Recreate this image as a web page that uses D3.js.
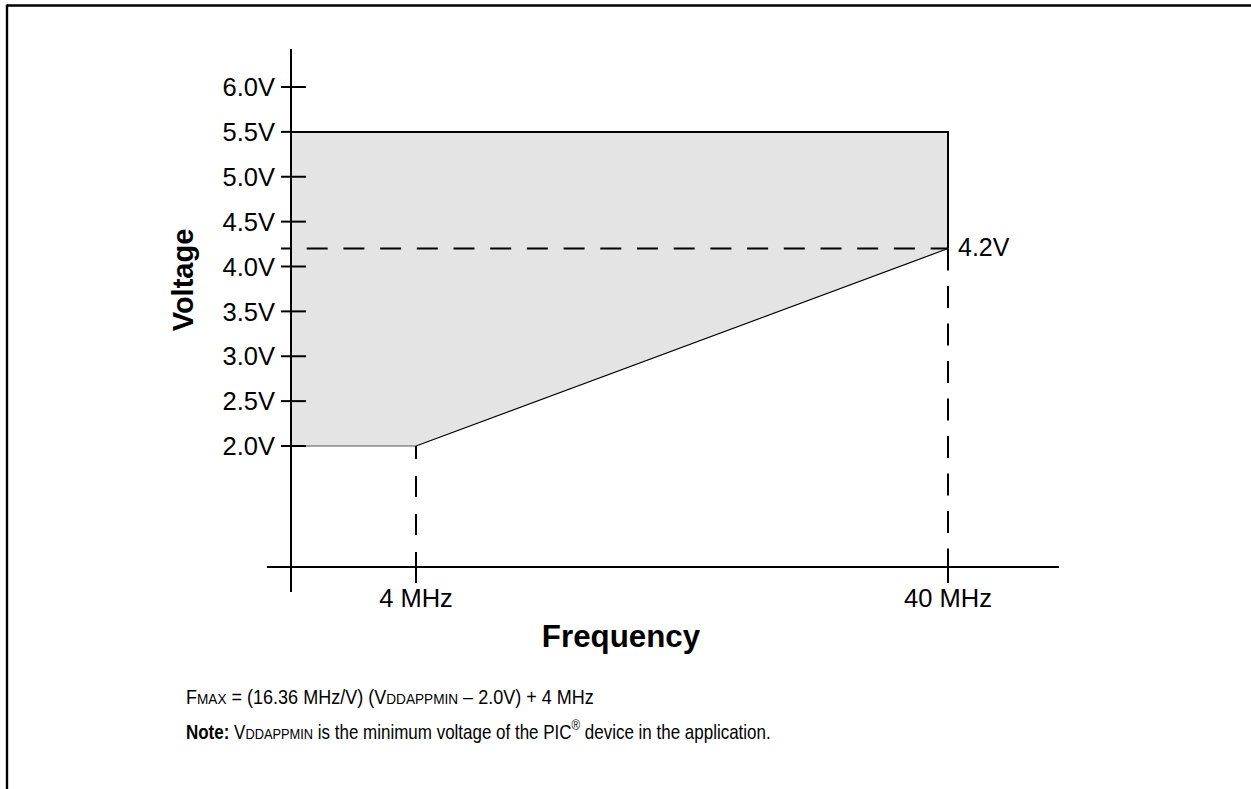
<!DOCTYPE html>
<html>
<head>
<meta charset="utf-8">
<script src="https://cdn.jsdelivr.net/npm/d3@7"></script>
<style>
  html, body { margin: 0; padding: 0; background: #fff; }
  svg { display: block; }
  text { font-family: "Liberation Sans", Arial, sans-serif; fill: #000; }
</style>
</head>
<body>
<svg id="chart" width="1251" height="789"></svg>
<script>
// ---- data ----
const yTickValues = [2.0, 2.5, 3.0, 3.5, 4.0, 4.5, 5.0, 5.5, 6.0];
const yTickLabels = ["2.0V", "2.5V", "3.0V", "3.5V", "4.0V", "4.5V", "5.0V", "5.5V", "6.0V"];
const xTickValues = [4, 40];
const xTickLabels = ["4 MHz", "40 MHz"];
const boundaryFreq = [4, 40];      // MHz
const boundaryVolt = [2.0, 4.2];   // V
const maxVolt = 5.5;
const markerVolt = 4.2;
const markerLabel = "4.2V";
const yTitle = "Voltage";
const xTitle = "Frequency";

// ---- layout ----
const svg = d3.select("#chart");
const axisX = 291, axisTop = 49, axisBottom = 592;
const xAxisY = 567, xAxisLeft = 267, xAxisRight = 1059;

const y = d3.scaleLinear().domain([2.0, 6.0]).range([446, 87]);
const x = d3.scaleLinear().domain([4, 40]).range([416, 948]);

// frame
svg.append("line").attr("x1", 7).attr("x2", 1251).attr("y1", 5.5).attr("y2", 5.5)
  .attr("stroke", "#000").attr("stroke-width", 2.4);
svg.append("line").attr("x1", 7).attr("x2", 7).attr("y1", 4.5).attr("y2", 789)
  .attr("stroke", "#000").attr("stroke-width", 2.4);

// shaded region
const poly = [
  [axisX, y(maxVolt)],
  [x(boundaryFreq[1]), y(maxVolt)],
  [x(boundaryFreq[1]), y(boundaryVolt[1])],
  [x(boundaryFreq[0]), y(boundaryVolt[0])],
  [axisX, y(boundaryVolt[0])]
];
svg.append("polygon").attr("points", poly.map(p => p.join(",")).join(" "))
  .attr("fill", "#e4e4e4").attr("stroke", "none");

// region edges
svg.append("line").attr("x1", axisX).attr("x2", x(boundaryFreq[1]))
  .attr("y1", y(maxVolt)).attr("y2", y(maxVolt)).attr("stroke", "#000").attr("stroke-width", 2);
svg.append("line").attr("x1", x(boundaryFreq[1])).attr("x2", x(boundaryFreq[1]))
  .attr("y1", y(maxVolt) - 1).attr("y2", y(boundaryVolt[1])).attr("stroke", "#000").attr("stroke-width", 2);
svg.append("line").attr("x1", x(boundaryFreq[0])).attr("x2", x(boundaryFreq[1]))
  .attr("y1", y(boundaryVolt[0])).attr("y2", y(boundaryVolt[1])).attr("stroke", "#000").attr("stroke-width", 1.2);
svg.append("line").attr("x1", axisX).attr("x2", x(boundaryFreq[0]))
  .attr("y1", y(boundaryVolt[0])).attr("y2", y(boundaryVolt[0])).attr("stroke", "#555").attr("stroke-width", 1);

// dashed guides
svg.append("line").attr("x1", axisX - 10).attr("x2", x(boundaryFreq[1]))
  .attr("y1", y(markerVolt)).attr("y2", y(markerVolt))
  .attr("stroke", "#000").attr("stroke-width", 2)
  .attr("stroke-dasharray", "21,15.7").attr("stroke-dashoffset", 11);
svg.append("line").attr("x1", x(boundaryFreq[1])).attr("x2", x(boundaryFreq[1]))
  .attr("y1", y(boundaryVolt[1])).attr("y2", xAxisY)
  .attr("stroke", "#000").attr("stroke-width", 2)
  .attr("stroke-dasharray", "22,15.5");
svg.append("line").attr("x1", x(boundaryFreq[0])).attr("x2", x(boundaryFreq[0]))
  .attr("y1", y(boundaryVolt[0])).attr("y2", xAxisY)
  .attr("stroke", "#000").attr("stroke-width", 2)
  .attr("stroke-dasharray", "21,17").attr("stroke-dashoffset", 8);

// axes
svg.append("line").attr("x1", axisX).attr("x2", axisX).attr("y1", axisTop).attr("y2", axisBottom)
  .attr("stroke", "#000").attr("stroke-width", 2);
svg.append("line").attr("x1", xAxisLeft).attr("x2", xAxisRight).attr("y1", xAxisY).attr("y2", xAxisY)
  .attr("stroke", "#000").attr("stroke-width", 2);

// y ticks
const yt = svg.append("g");
yt.selectAll("line").data(yTickValues).join("line")
  .attr("x1", axisX - 10).attr("x2", d => d === maxVolt ? axisX : axisX + 15)
  .attr("y1", d => y(d)).attr("y2", d => y(d))
  .attr("stroke", "#000").attr("stroke-width", 2);
yt.selectAll("text").data(yTickValues).join("text")
  .attr("x", axisX - 16).attr("y", d => y(d)).attr("dy", "0.36em")
  .attr("text-anchor", "end").attr("font-size", 25.5)
  .text((d, i) => yTickLabels[i]);

// x ticks
const xt = svg.append("g");
xt.selectAll("line").data(xTickValues).join("line")
  .attr("x1", d => x(d)).attr("x2", d => x(d))
  .attr("y1", xAxisY - 12).attr("y2", xAxisY + 16)
  .attr("stroke", "#000").attr("stroke-width", 2);
xt.selectAll("text").data(xTickValues).join("text")
  .attr("x", d => x(d)).attr("y", 607)
  .attr("text-anchor", "middle").attr("font-size", 25.5)
  .text((d, i) => xTickLabels[i]);

// marker label
svg.append("text").attr("x", x(boundaryFreq[1]) + 10).attr("y", y(markerVolt)).attr("dy", "0.3em")
  .attr("font-size", 25).text(markerLabel);

// titles
svg.append("text").attr("transform", `translate(193,280) rotate(-90)`)
  .attr("text-anchor", "middle").attr("font-size", 29).attr("font-weight", "bold").text(yTitle);
svg.append("text").attr("x", 621).attr("y", 646.5)
  .attr("text-anchor", "middle").attr("font-size", 31.3).attr("font-weight", "bold").text(xTitle);

// notes
function fitLine(node, x0, targetW) {
  const b = node.node().getBBox();
  const s = targetW / b.width;
  node.attr("transform", `translate(${x0 - b.x * s},0) scale(${s},1)`);
}
const fs = 20.5, sc = 15.5;
const l1 = svg.append("text").attr("x", 0).attr("y", 704).attr("font-size", fs);
l1.append("tspan").text("F");
l1.append("tspan").attr("font-size", sc).text("MAX");
l1.append("tspan").text(" = (16.36 MHz/V) (V");
l1.append("tspan").attr("font-size", sc).text("DDAPPMIN");
l1.append("tspan").text(" \u2013 2.0V) + 4 MHz");
fitLine(l1, 186, 408);

const l2 = svg.append("text").attr("x", 0).attr("y", 739).attr("font-size", fs);
l2.append("tspan").attr("font-weight", "bold").text("Note:");
l2.append("tspan").text(" V");
l2.append("tspan").attr("font-size", sc).text("DDAPPMIN");
l2.append("tspan").text(" is the minimum voltage of the PIC");
l2.append("tspan").attr("font-size", 14).attr("dy", -9).text("\u00AE");
l2.append("tspan").attr("dy", 9).text(" device in the application.");
fitLine(l2, 186, 585);
</script>
</body>
</html>
